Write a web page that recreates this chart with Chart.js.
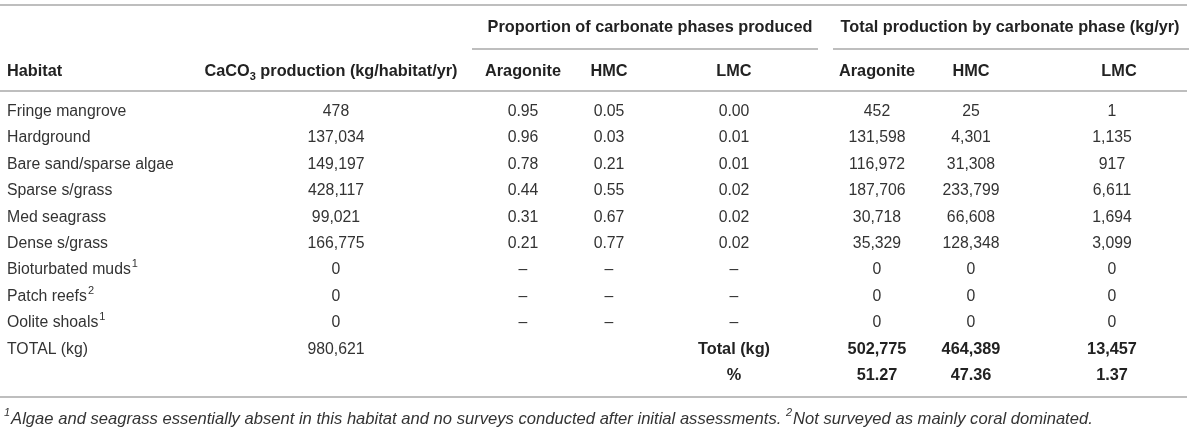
<!DOCTYPE html>
<html>
<head>
<meta charset="utf-8">
<script src="https://cdn.jsdelivr.net/npm/chart.js@4/dist/chart.umd.min.js"></script>
<style>
html,body{margin:0;padding:0;background:#fff;}
#wrap{width:1200px;height:430px;}
</style>
</head>
<body>
<div id="wrap"><canvas id="c" width="1200" height="430"></canvas></div>
<script>
// ---------- DATA ----------
const habitats = ['Fringe mangrove','Hardground','Bare sand/sparse algae','Sparse s/grass','Med seagrass','Dense s/grass','Bioturbated muds','Patch reefs','Oolite shoals'];
const habitatNotes = ['','','','','','','1','2','1'];
const caco3Production = [478,137034,149197,428117,99021,166775,0,0,0];
const propAragonite = [0.95,0.96,0.78,0.44,0.31,0.21,null,null,null];
const propHMC = [0.05,0.03,0.21,0.55,0.67,0.77,null,null,null];
const propLMC = [0.00,0.01,0.01,0.02,0.02,0.02,null,null,null];
const totAragonite = [452,131598,116972,187706,30718,35329,0,0,0];
const totHMC = [25,4301,31308,233799,66608,128348,0,0,0];
const totLMC = [1,1135,917,6611,1694,3099,0,0,0];
const totalLabel = 'TOTAL (kg)';
const totalProduction = 980621;
const phaseTotalsLabel = 'Total (kg)';
const phaseTotals = [502775,464389,13457];
const phasePercentLabel = '%';
const phasePercents = [51.27,47.36,1.37];
const groupHeaders = ['Proportion of carbonate phases produced','Total production by carbonate phase (kg/yr)'];
const columnHeaders = ['Habitat','CaCO|3| production (kg/habitat/yr)','Aragonite','HMC','LMC','Aragonite','HMC','LMC'];
const footnotes = [['1','Algae and seagrass essentially absent in this habitat and no surveys conducted after initial assessments. '],['2','Not surveyed as mainly coral dominated.']];

// ---------- LAYOUT (positions/styles only) ----------
const L = {
  colX: [7, 336, 523, 609, 734, 877, 971, 1112],   // col 0 left-aligned, others centered
  headX: [7, 331, 523, 609, 734, 877, 971, 1119],
  firstRowY: 111.7, rowH: 26.4,
  groupY: 28, groupLineY: 49, headerY: 72,
  topLineY: 5, headLineY: 91, bottomLineY: 397, footY: 419,
  lineEnd: 1187,
  groups: [[472, 818], [833, 1189]],
  groupTextX: [650, 1010],
  font: '"Liberation Sans", Arial, Helvetica, sans-serif',
  size: 15.8, boldSize: 16.3, footSize: 16.6, supSize: 11
};

const fmtInt = v => v.toLocaleString('en-US');
const fmtProp = v => v === null ? '\u2013' : v.toFixed(2);

function rowY(i){ return L.firstRowY + i * L.rowH; }
function colData(values, col, fmt, bold){
  return values.map((v,i)=>({x:L.colX[col], y:rowY(i), t:fmt(v), bold:!!bold}));
}
const nH = habitats.length;
const datasets = [
  {label:'Habitat', data: habitats.map((h,i)=>({x:L.colX[0], y:rowY(i), t:h, sup:habitatNotes[i], left:true}))
      .concat([{x:L.colX[0], y:rowY(nH), t:totalLabel, left:true}])},
  {label:'CaCO3', data: colData(caco3Production,1,fmtInt).concat([{x:L.colX[1], y:rowY(nH), t:fmtInt(totalProduction)}])},
  {label:'pA', data: colData(propAragonite,2,fmtProp)},
  {label:'pH', data: colData(propHMC,3,fmtProp)},
  {label:'pL', data: colData(propLMC,4,fmtProp).concat([
      {x:L.colX[4], y:rowY(nH), t:phaseTotalsLabel, bold:true},
      {x:L.colX[4], y:rowY(nH+1), t:phasePercentLabel, bold:true}])},
  {label:'tA', data: colData(totAragonite,5,fmtInt).concat([
      {x:L.colX[5], y:rowY(nH), t:fmtInt(phaseTotals[0]), bold:true},
      {x:L.colX[5], y:rowY(nH+1), t:phasePercents[0].toFixed(2), bold:true}])},
  {label:'tH', data: colData(totHMC,6,fmtInt).concat([
      {x:L.colX[6], y:rowY(nH), t:fmtInt(phaseTotals[1]), bold:true},
      {x:L.colX[6], y:rowY(nH+1), t:phasePercents[1].toFixed(2), bold:true}])},
  {label:'tL', data: colData(totLMC,7,fmtInt).concat([
      {x:L.colX[7], y:rowY(nH), t:fmtInt(phaseTotals[2]), bold:true},
      {x:L.colX[7], y:rowY(nH+1), t:phasePercents[2].toFixed(2), bold:true}])}
].map(d=>Object.assign(d,{pointRadius:0,pointHoverRadius:0,showLine:false}));

function font(w, st, sz){ return (st||'') + ' ' + (w||'normal') + ' ' + (sz||L.size) + 'px ' + L.font; }

const tablePlugin = {
  id:'table',
  afterDatasetsDraw(chart){
    const ctx = chart.ctx, xs = chart.scales.x, ys = chart.scales.y;
    const X = v=>xs.getPixelForValue(v), Y = v=>ys.getPixelForValue(v);
    ctx.save();
    ctx.strokeStyle = '#a9a9a9'; ctx.lineWidth = 1.3;
    const hline=(x0,x1,y)=>{ctx.beginPath();ctx.moveTo(X(x0),Y(y));ctx.lineTo(X(x1),Y(y));ctx.stroke();};
    hline(0,L.lineEnd,L.topLineY);
    hline(0,L.lineEnd,L.headLineY);
    hline(0,L.lineEnd,L.bottomLineY);
    L.groups.forEach(g=>hline(g[0],g[1],L.groupLineY));
    ctx.fillStyle = '#222'; ctx.textBaseline = 'middle'; ctx.textAlign = 'center';
    ctx.font = font('bold','',L.boldSize);
    groupHeaders.forEach((t,i)=>{ ctx.fillText(t, X(L.groupTextX[i]), Y(L.groupY)); });
    columnHeaders.forEach((t,i)=>{
      const parts = t.split('|');
      if (parts.length === 1){
        ctx.textAlign = i===0 ? 'left' : 'center';
        ctx.font = font('bold','',L.boldSize);
        ctx.fillText(t, X(L.headX[i]), Y(L.headerY));
      } else {
        ctx.font = font('bold','',L.boldSize); const w0 = ctx.measureText(parts[0]).width, w2 = ctx.measureText(parts[2]).width;
        ctx.font = font('bold','',L.supSize); const w1 = ctx.measureText(parts[1]).width;
        let x = X(L.headX[i]) - (w0+w1+w2)/2, y = Y(L.headerY);
        ctx.textAlign='left';
        ctx.font = font('bold','',L.boldSize); ctx.fillText(parts[0], x, y); x+=w0;
        ctx.font = font('bold','',L.supSize); ctx.fillText(parts[1], x, y+5); x+=w1;
        ctx.font = font('bold','',L.boldSize); ctx.fillText(parts[2], x, y);
      }
    });
    chart.data.datasets.forEach((ds,di)=>{
      const meta = chart.getDatasetMeta(di);
      meta.data.forEach((el,j)=>{
        const p = ds.data[j];
        ctx.font = p.bold ? font('bold','',L.boldSize) : font('normal');
        ctx.fillStyle = p.bold ? '#222' : '#333';
        ctx.textAlign = p.left ? 'left' : 'center';
        ctx.fillText(p.t, el.x, el.y);
        if (p.sup){
          const w = ctx.measureText(p.t).width;
          ctx.font = font('normal','',L.supSize); ctx.textAlign='left';
          ctx.fillText(p.sup, el.x + w + 1, el.y - 6);
        }
      });
    });
    ctx.fillStyle = '#333'; ctx.textAlign='left';
    let fx = X(4); const fy = Y(L.footY);
    footnotes.forEach(f=>{
      ctx.font = font('normal','italic',L.supSize); ctx.fillText(f[0], fx, fy-6); fx += ctx.measureText(f[0]).width + 1;
      ctx.font = font('normal','italic',L.footSize); ctx.fillText(f[1], fx, fy); fx += ctx.measureText(f[1]).width;
    });
    ctx.restore();
  }
};

new Chart(document.getElementById('c'), {
  type:'scatter',
  data:{datasets},
  options:{
    responsive:false, devicePixelRatio:1, animation:false,
    layout:{padding:0},
    plugins:{legend:{display:false}, tooltip:{enabled:false}},
    scales:{
      x:{type:'linear', min:0, max:1200, display:false},
      y:{type:'linear', min:0, max:430, reverse:true, display:false}
    }
  },
  plugins:[tablePlugin]
});
</script>
</body>
</html>
